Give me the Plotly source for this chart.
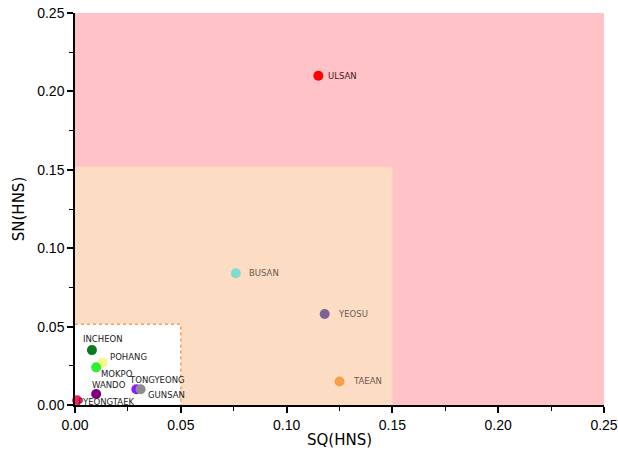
import plotly.graph_objects as go

# Port risk scores: SQ vs SN for hazardous & noxious substances
ports = ["ULSAN", "BUSAN", "YEOSU", "TAEAN", "INCHEON", "POHANG", "MOKPO",
         "WANDO", "TONGYEONG", "GUNSAN", "PYEONGTAEK"]
sq = [0.115, 0.076, 0.118, 0.125, 0.008, 0.013, 0.010, 0.010, 0.029, 0.031, 0.001]
sn = [0.210, 0.084, 0.058, 0.015, 0.035, 0.027, 0.024, 0.007, 0.010, 0.010, 0.003]
colors = ["#ff0000", "#7fdccc", "#7a6496", "#f5a04a", "#0b7a1e", "#f7f78a",
          "#30ee30", "#800080", "#8a1cff", "#8c8c8c", "#ff1a66"]
label_colors = ["#4a2020", "#6b5a50", "#6b5a50", "#6b5a50", "#222222", "#222222",
                "#222222", "#222222", "#222222", "#222222", "#222222"]
# label offsets (px) relative to each marker
label_dx = [8, 11, 11, 11, -11, 5, 3, -6, -9, 5, -1]
label_dy = [0, 0, 0, 0, 11, 6, -7, 9, 9, -6, -2]

zones = [(0.25, 0.25, "#ffc2c6"), (0.15, 0.152, "#fddcc4"), (0.05, 0.0515, "#ffffff")]

fig = go.Figure()

shapes = []
for xmax, ymax, col in zones:
    shapes.append(dict(type="rect", xref="x", yref="y", x0=0, y0=0, x1=xmax, y1=ymax,
                       fillcolor=col, line=dict(width=0), layer="below"))
# dotted border round the innermost zone
shapes.append(dict(type="path", xref="x", yref="y",
                   path=f"M 0 {zones[2][1]} L {zones[2][0]} {zones[2][1]} L {zones[2][0]} 0",
                   line=dict(color="#f0a060", width=1.5, dash="dot"), layer="below"))

fig.add_trace(go.Scatter(x=sq, y=sn, mode="markers",
                         marker=dict(size=10, color=colors, line=dict(width=0)),
                         cliponaxis=False, hoverinfo="text", text=ports))

annotations = []
for name, xv, yv, c, dx, dy in zip(ports, sq, sn, label_colors, label_dx, label_dy):
    annotations.append(dict(x=xv, y=yv, xref="x", yref="y", text=name, showarrow=False,
                            xanchor="left", yanchor="middle", xshift=dx, yshift=dy,
                            font=dict(family="DejaVu Sans", size=8.5, color=c)))

fig.update_layout(
    width=618, height=459,
    margin=dict(l=75, r=14, t=13, b=54, autoexpand=False),
    paper_bgcolor="white", plot_bgcolor="white",
    showlegend=False, shapes=shapes, annotations=annotations,
    font=dict(family="Liberation Sans", color="black"),
)
axis_common = dict(
    tickformat=".2f", dtick=0.05, showgrid=False, zeroline=False, automargin=False,
    showline=True, linecolor="black", linewidth=1.5,
    ticks="outside", ticklen=6, tickwidth=1.5, tickcolor="black",
    minor=dict(dtick=0.025, ticks="outside", ticklen=4, tickwidth=1.2, tickcolor="black"),
    tickfont=dict(family="Liberation Sans", size=14, color="black"),
    title_font=dict(family="DejaVu Sans", size=15, color="black"),
)
fig.update_xaxes(range=[0, 0.25], title_text="SQ(HNS)", title_standoff=3, **axis_common)
fig.update_yaxes(range=[0, 0.25], title_text="SN(HNS)", title_standoff=9, **axis_common)

fig.write_html("out.html")
